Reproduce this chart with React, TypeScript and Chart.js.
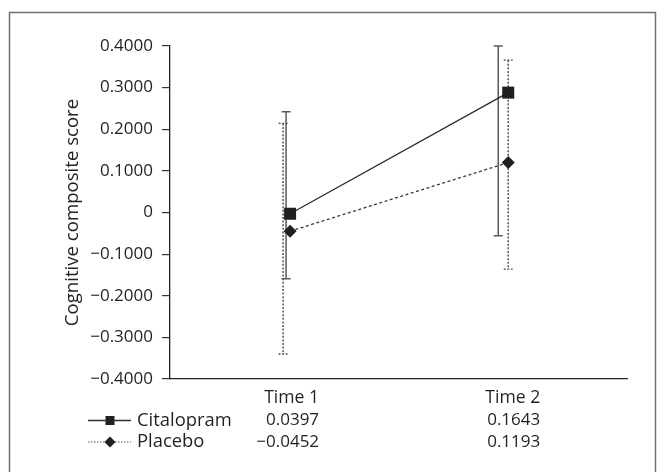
import React, { useEffect, useRef } from 'react';
import { Chart, registerables } from 'chart.js';

Chart.register(...registerables);

// ---- data ----
const categories = ['Time 1', 'Time 2'];
const seriesNames = ['Citalopram', 'Placebo'];
const citalopramMeans = [-0.003, 0.288];
const placeboMeans = [-0.045, 0.12];
const citalopramUpper = [0.242, 0.4];
const citalopramLower = [-0.159, -0.056];
const placeboUpper = [0.214, 0.366];
const placeboLower = [-0.34, -0.136];
const citalopramTable = ['0.0397', '0.1643'];
const placeboTable = ['\u22120.0452', '0.1193'];
const yMin = -0.4;
const yMax = 0.4;
const yStep = 0.1;

const FONT = '"Open Sans", "Noto Sans", sans-serif';
const INK = '#231f20';

const fmtTick = (v: number) => {
  const r = Math.round(v * 10000) / 10000;
  if (Math.abs(r) < 1e-9) return '0';
  return (r < 0 ? '\u2212' : '') + Math.abs(r).toFixed(4);
};

const errorBarsPlugin = {
  id: 'errorBars',
  beforeDatasetsDraw(chart: any) {
    const { ctx, scales } = chart;
    const xs = scales.x;
    const ys = scales.y;
    const sets = [
      { up: citalopramUpper, lo: citalopramLower, shift: [-4, -10], dash: [] as number[], color: '#5a5a5a', w: 1.5 },
      { up: placeboUpper, lo: placeboLower, shift: [-7, 0], dash: [2, 1.6], color: '#4a4a4a', w: 1.4 },
    ];
    ctx.save();
    sets.forEach((s) => {
      ctx.strokeStyle = s.color;
      ctx.lineWidth = s.w;
      ctx.setLineDash(s.dash);
      categories.forEach((_, i) => {
        const x = xs.getPixelForValue(i + 1) + s.shift[i];
        const yt = ys.getPixelForValue(s.up[i]);
        const yb = ys.getPixelForValue(s.lo[i]);
        ctx.beginPath();
        ctx.moveTo(x, yt);
        ctx.lineTo(x, yb);
        ctx.moveTo(x - 4.5, yt);
        ctx.lineTo(x + 4.5, yt);
        ctx.moveTo(x - 4.5, yb);
        ctx.lineTo(x + 4.5, yb);
        ctx.stroke();
      });
    });
    ctx.restore();
  },
};

const tablePlugin = {
  id: 'dataTable',
  afterDraw(chart: any) {
    const { ctx, scales, chartArea } = chart;
    const xs = scales.x;
    const base = chartArea.bottom;
    ctx.save();
    // frame
    ctx.strokeStyle = '#6f6f6f';
    ctx.lineWidth = 1.5;
    ctx.strokeRect(9.5, 12.5, 646, 480);

    ctx.fillStyle = INK;
    ctx.textBaseline = 'middle';
    ctx.textAlign = 'right';
    const rowY = [base + 18.5, base + 41.5, base + 63];
    categories.forEach((c, i) => {
      const xr = xs.getPixelForValue(i + 1) + (i === 0 ? 29 : 32);
      ctx.font = `17.6px ${FONT}`;
      ctx.fillText(c, xr, rowY[0]);
      ctx.font = `17px ${FONT}`;
      ctx.fillText(citalopramTable[i], xr, rowY[1]);
      ctx.fillText(placeboTable[i], xr, rowY[2]);
    });
    ctx.textAlign = 'left';
    ctx.font = `18.4px ${FONT}`;
    ctx.fillText(seriesNames[0], 137, rowY[1]);
    ctx.fillText(seriesNames[1], 137, rowY[2]);

    // legend symbols
    ctx.strokeStyle = '#333';
    ctx.lineWidth = 1.3;
    ctx.beginPath();
    ctx.moveTo(88, rowY[1]);
    ctx.lineTo(131, rowY[1]);
    ctx.stroke();
    ctx.fillStyle = INK;
    ctx.fillRect(105.5, rowY[1] - 4.5, 9, 9);

    ctx.strokeStyle = '#555';
    ctx.lineWidth = 1.1;
    ctx.setLineDash([1.5, 1.5]);
    ctx.beginPath();
    ctx.moveTo(88, rowY[2]);
    ctx.lineTo(131, rowY[2]);
    ctx.stroke();
    ctx.setLineDash([]);
    ctx.beginPath();
    ctx.moveTo(110, rowY[2] - 5.5);
    ctx.lineTo(115.5, rowY[2]);
    ctx.lineTo(110, rowY[2] + 5.5);
    ctx.lineTo(104.5, rowY[2]);
    ctx.closePath();
    ctx.fill();
    ctx.restore();
  },
};

export default function App() {
  const ref = useRef<HTMLCanvasElement | null>(null);
  useEffect(() => {
    if (!ref.current) return;
    const chart = new Chart(ref.current, {
      type: 'line',
      data: {
        datasets: [
          {
            label: seriesNames[0],
            data: citalopramMeans.map((y, i) => ({ x: i + 1, y })),
            borderColor: '#2b2b2b',
            borderWidth: 1.3,
            pointStyle: 'rect',
            pointRadius: 8.5,
            pointBorderWidth: 0,
            pointBackgroundColor: INK,
            pointBorderColor: INK,
            fill: false,
            tension: 0,
          },
          {
            label: seriesNames[1],
            data: placeboMeans.map((y, i) => ({ x: i + 1, y })),
            borderColor: '#3a3a3a',
            borderWidth: 1.3,
            borderDash: [3, 2.5],
            pointStyle: 'rectRot',
            pointRadius: 6.5,
            pointBorderWidth: 0,
            pointBackgroundColor: INK,
            pointBorderColor: INK,
            fill: false,
            tension: 0,
          },
        ],
      },
      options: {
        animation: false,
        responsive: false,
        events: [],
        layout: { padding: { left: 62, top: 46, right: 37, bottom: 93 } },
        plugins: {
          legend: { display: false },
          tooltip: { enabled: false },
        },
        scales: {
          x: {
            type: 'linear',
            min: 0.4495,
            max: 2.5445,
            ticks: { display: false },
            grid: { display: false, drawTicks: false },
            border: { display: true, color: '#222', width: 1.3 },
            afterFit: (s: any) => {
              s.height = 0;
            },
          },
          y: {
            type: 'linear',
            min: yMin,
            max: yMax,
            ticks: {
              stepSize: yStep,
              padding: 9,
              color: INK,
              font: { family: FONT, size: 17 },
              callback: (v: any) => fmtTick(Number(v)),
            },
            grid: { display: true, drawOnChartArea: false, drawTicks: true, tickLength: 8, color: '#333', lineWidth: 1.2 },
            border: { display: true, color: '#222', width: 1.3 },
            title: {
              display: true,
              text: 'Cognitive composite score',
              color: INK,
              font: { family: FONT, size: 18.6 },
              padding: 0,
            },
            afterFit: (s: any) => {
              s.width = 108;
            },
          },
        },
      },
      plugins: [errorBarsPlugin, tablePlugin],
    });
    return () => chart.destroy();
  }, []);
  return (
    <div style={{ position: 'fixed', left: 0, top: 0, width: 664, height: 472, background: '#fff' }}>
      <canvas ref={ref} width={664} height={472} style={{ width: 664, height: 472, display: 'block' }} />
    </div>
  );
}
